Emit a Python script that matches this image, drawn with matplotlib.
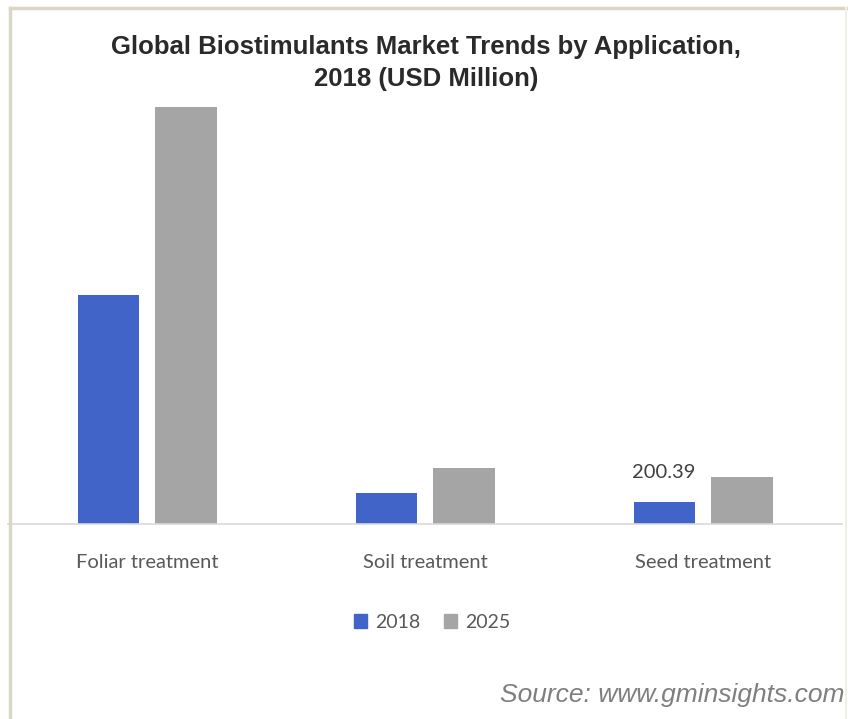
"""Grouped bar chart: biostimulants market by application, 2018 vs 2025."""

import matplotlib

matplotlib.use("Agg")
import matplotlib.pyplot as plt
from matplotlib.lines import Line2D
from matplotlib.patches import Patch
import numpy as np

applications = ["Foliar treatment", "Soil treatment", "Seed treatment"]
years = ["2018", "2025"]
values_2018 = [2130, 284, 200.39]
values_2025 = [3882, 517, 433]
labelled_value = 200.39  # only the seed 2018 bar carries a label

BLUE = "#4164c8"
GREY = "#a5a5a5"
FRAME = "#dcd7c4"
W, H = 848, 719


def px(x, y):
    """Figure pixel (from top-left) to figure fraction."""
    return x / W, 1 - y / H


fig = plt.figure(figsize=(W / 100, H / 100), dpi=100)
fig.patch.set_facecolor("white")

# axes: x from 8 to 842 px, baseline at 523.5 px, top at 100 px
left, bottom = px(8, 523.5)
right, top = px(842, 100)
ax = fig.add_axes([left, bottom, right - left, top - bottom])

x = np.arange(len(applications))
width = 0.22
offset = 0.14
ax.bar(x - offset, values_2018, width, color=BLUE, zorder=2)
ax.bar(x + offset, values_2025, width, color=GREY, zorder=2)

ax.set_xlim(-0.5, 2.5)
ax.set_ylim(0, 423.5 * 200.39 / 21.5)
for side in ["top", "right", "left"]:
    ax.spines[side].set_visible(False)
ax.spines["bottom"].set_color("#d9d9d9")
ax.spines["bottom"].set_linewidth(1.2)
ax.set_yticks([])
ax.set_xticks(x)
ax.set_xticklabels(applications, fontsize=14.5, color="#595959", family=["Lato", "DejaVu Sans"])
ax.tick_params(axis="x", length=0, pad=22)

ax.annotate(f"{labelled_value:.2f}", (x[2] - offset, labelled_value), xytext=(0, 15),
            textcoords="offset points", ha="center", va="bottom",
            fontsize=14.5, color="#404040", family=["Lato", "DejaVu Sans"])

fig.text(*px(426, 63), "Global Biostimulants Market Trends by Application,\n2018 (USD Million)",
         ha="center", va="center", fontsize=18.5, fontweight="bold", color="#2a2a2a",
         family=["Liberation Sans Narrow", "Liberation Sans", "DejaVu Sans"], linespacing=1.45)

handles = [Patch(color=BLUE), Patch(color=GREY)]
fig.legend(handles, years, loc="center", bbox_to_anchor=px(432, 622), ncol=2, frameon=False,
           handlelength=0.7, handleheight=0.7, handletextpad=0.4, columnspacing=1.2,
           prop={"family": ["Lato", "DejaVu Sans"], "size": 14}, labelcolor="#595959")

fig.text(*px(845, 695), "Source: www.gminsights.com", ha="right", va="center",
         fontsize=19, style="italic", color="#7f7f7f", family=["Liberation Sans", "DejaVu Sans"])

# beige frame around the chart area
fig.add_artist(Line2D(*zip(px(10, 8), px(848, 8)), color=FRAME, lw=2.5))
fig.add_artist(Line2D(*zip(px(10, 8), px(10, 719)), color=FRAME, lw=2.5))
fig.add_artist(Line2D(*zip(px(846, 8), px(846, 719)), color="#f0eee6", lw=1.5))

fig.savefig("out.png", dpi=100)
